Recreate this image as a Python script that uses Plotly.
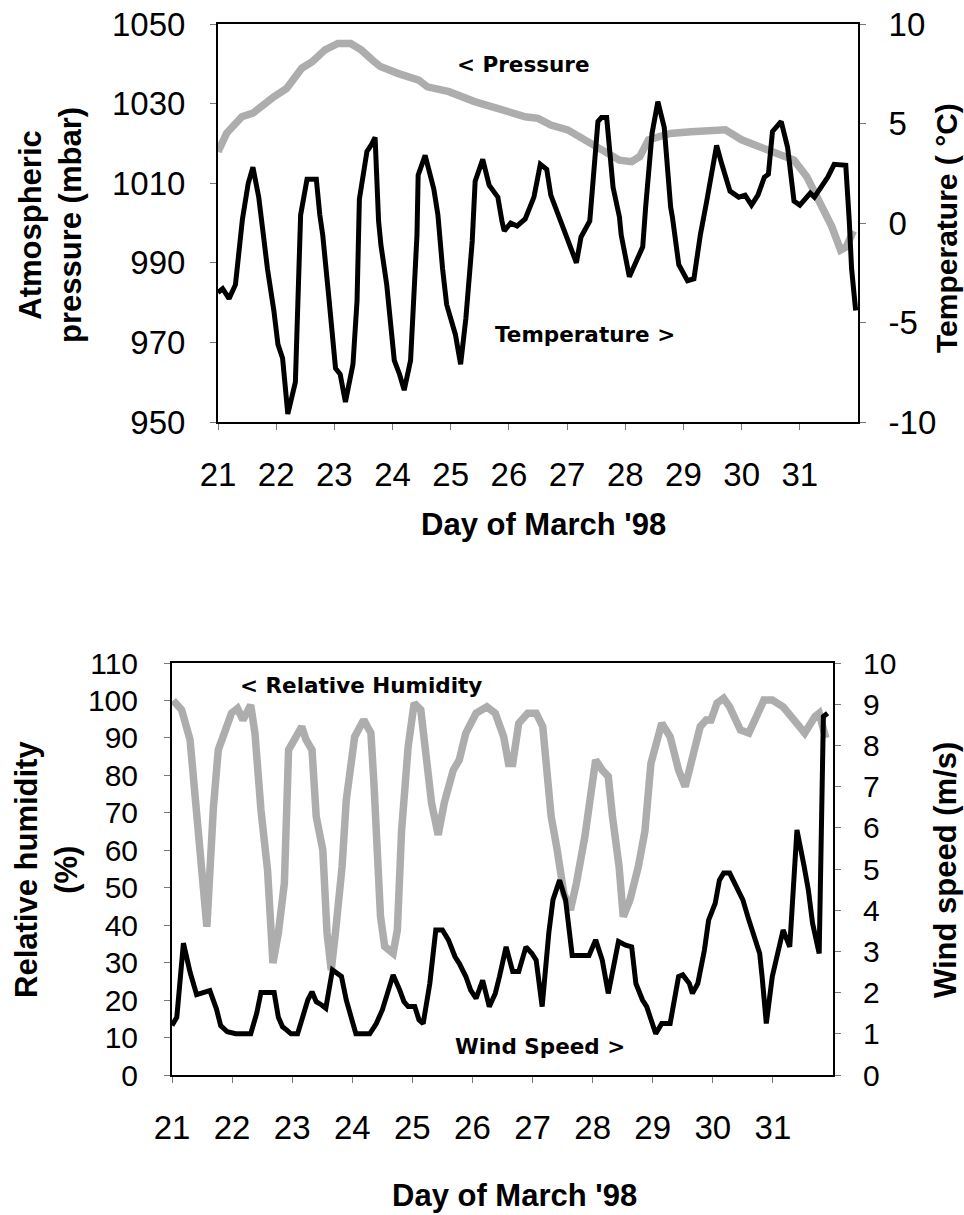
import plotly.graph_objects as go

# ---------------- data ----------------
days = list(range(21, 32))
day_labels = [str(d) for d in days]

pressure_day = [21.00, 21.15, 21.41, 21.60, 21.96, 22.18, 22.44, 22.62, 22.84, 23.06, 23.28, 23.46,
                23.65, 23.79, 24.09, 24.45, 24.60, 24.97, 25.41, 25.85, 26.28, 26.50, 26.72, 27.01,
                27.31, 27.60, 27.90, 28.11, 28.25, 28.40, 28.77, 29.13, 29.50, 29.72, 30.00, 30.31,
                30.68, 30.90, 31.12, 31.26, 31.40, 31.55, 31.70, 31.80, 31.92]
pressure_mbar = [1017.9, 1022.6, 1026.7, 1027.6, 1031.7, 1033.8, 1038.9, 1040.5, 1043.5, 1045.1, 1045.1, 1043.5,
                 1041.0, 1039.3, 1037.6, 1035.9, 1034.2, 1033.0, 1030.5, 1028.4, 1026.7, 1026.3, 1024.6, 1023.4,
                 1020.9, 1018.3, 1015.8, 1015.4, 1016.7, 1020.9, 1022.5, 1022.9, 1023.4, 1023.4, 1020.9, 1019.2,
                 1017.5, 1015.8, 1011.6, 1007.5, 1003.0, 999.1, 993.2, 994.0, 998.0]

temp_day = [21.00, 21.08, 21.19, 21.30, 21.42, 21.52, 21.60, 21.70, 21.78, 21.85, 21.96, 22.03, 22.11, 22.20,
            22.33, 22.42, 22.53, 22.69, 22.75, 22.80, 22.91, 23.02, 23.10, 23.19, 23.32, 23.39, 23.43, 23.56,
            23.64, 23.70, 23.76, 23.80, 23.90, 24.03, 24.12, 24.20, 24.31, 24.42, 24.44, 24.56, 24.71, 24.78,
            24.86, 24.93, 25.08, 25.17, 25.26, 25.37, 25.42, 25.55, 25.66, 25.81, 25.88, 25.92, 26.03, 26.14,
            26.28, 26.43, 26.54, 26.65, 26.72, 26.85, 26.98, 27.16, 27.24, 27.35, 27.39, 27.53, 27.59, 27.68,
            27.79, 27.90, 27.93, 28.07, 28.19, 28.30, 28.35, 28.46, 28.56, 28.67, 28.78, 28.81, 28.92, 29.07,
            29.18, 29.29, 29.40, 29.57, 29.66, 29.80, 29.95, 30.06, 30.17, 30.28, 30.39, 30.46, 30.53, 30.68,
            30.79, 30.90, 31.00, 31.07, 31.18, 31.25, 31.40, 31.48, 31.59, 31.70, 31.79, 31.85, 31.89, 31.96]
temp_c = [-3.5, -3.3, -3.8, -3.1, 0.2, 2.0, 2.8, 1.3, -0.6, -2.3, -4.4, -6.1, -6.8, -9.6,
          -8.0, 0.4, 2.2, 2.2, 0.4, -0.6, -3.9, -7.3, -7.6, -9.0, -7.1, -3.9, 1.2, 3.6,
          3.95, 4.3, 0.1, -1.1, -3.1, -6.9, -7.6, -8.4, -6.9, -0.6, 2.4, 3.4, 1.7, 0.4,
          -2.3, -4.1, -5.6, -7.1, -4.8, -0.9, 2.1, 3.2, 1.9, 1.3, 0.1, -0.4, 0.0, -0.15,
          0.2, 1.3, 2.95, 2.7, 1.4, 0.4, -0.5, -2.0, -0.7, -0.1, 0.1, 5.1, 5.3, 5.3,
          1.8, 0.3, -0.6, -2.7, -1.9, -1.2, 0.8, 4.5, 6.1, 4.8, 0.8, 0.3, -2.1, -2.9,
          -2.8, -0.6, 1.1, 3.9, 2.95, 1.6, 1.3, 1.4, 0.9, 1.4, 2.3, 2.45, 4.6, 5.1,
          3.8, 1.1, 0.9, 1.1, 1.5, 1.3, 2.0, 2.3, 2.95, 2.95, 2.9, 0.1, -2.3, -4.4]

rh_day = [21.02, 21.16, 21.30, 21.41, 21.52, 21.58, 21.69, 21.77, 21.99, 22.09, 22.18, 22.31, 22.38, 22.48,
          22.59, 22.62, 22.68, 22.77, 22.87, 22.94, 23.05, 23.16, 23.23, 23.33, 23.40, 23.51, 23.58, 23.65,
          23.72, 23.83, 23.90, 24.04, 24.19, 24.31, 24.36, 24.43, 24.47, 24.54, 24.68, 24.75, 24.82, 24.93,
          25.03, 25.14, 25.21, 25.32, 25.43, 25.53, 25.68, 25.78, 25.89, 26.06, 26.24, 26.38, 26.52, 26.60,
          26.67, 26.77, 26.92, 27.06, 27.17, 27.24, 27.31, 27.41, 27.52, 27.63, 27.73, 27.87, 27.98, 28.05,
          28.16, 28.26, 28.33, 28.44, 28.51, 28.62, 28.76, 28.87, 28.97, 29.15, 29.29, 29.43, 29.54, 29.65,
          29.79, 29.89, 29.97, 30.07, 30.18, 30.28, 30.46, 30.60, 30.74, 30.85, 30.99, 31.17, 31.35, 31.53,
          31.70, 31.77, 31.88]
rh_pct = [100.0, 97.5, 89.5, 71.6, 53.9, 39.6, 71.6, 86.8, 96.6, 97.9, 94.8, 98.8, 91.3, 70.8,
          54.7, 46.7, 29.9, 37.9, 51.2, 86.8, 90.3, 93.0, 89.5, 86.8, 69.0, 60.0, 37.9, 28.0,
          38.0, 55.6, 73.4, 90.3, 94.8, 91.3, 78.0, 56.6, 42.3, 34.3, 32.5, 38.7, 65.1, 87.7,
          99.3, 97.5, 86.8, 72.6, 64.1, 72.6, 81.4, 84.1, 91.3, 96.6, 98.3, 96.6, 90.3, 83.2,
          83.2, 93.9, 96.6, 96.6, 93.0, 79.7, 69.0, 60.1, 48.5, 44.1, 51.2, 63.6, 78.0, 84.1,
          81.4, 79.7, 69.0, 55.6, 42.3, 46.7, 55.6, 65.1, 83.2, 93.9, 90.3, 81.4, 77.0, 84.1,
          93.0, 94.8, 94.8, 99.3, 100.6, 98.3, 92.1, 91.3, 95.7, 100.1, 100.1, 98.3, 94.8, 91.3,
          95.7, 96.6, 90.0]

wind_day = [21.00, 21.08, 21.19, 21.30, 21.41, 21.52, 21.63, 21.74, 21.81, 21.92, 22.06, 22.31, 22.41, 22.48,
            22.70, 22.77, 22.84, 22.91, 22.98, 23.09, 23.19, 23.26, 23.33, 23.40, 23.49, 23.56, 23.67, 23.82,
            23.90, 23.97, 24.06, 24.29, 24.40, 24.50, 24.60, 24.68, 24.79, 24.86, 24.93, 25.04, 25.11, 25.18,
            25.29, 25.39, 25.50, 25.60, 25.71, 25.78, 25.89, 25.97, 26.06, 26.17, 26.28, 26.38, 26.45, 26.56,
            26.67, 26.77, 26.89, 26.99, 27.06, 27.16, 27.27, 27.34, 27.45, 27.55, 27.66, 27.94, 28.05, 28.16,
            28.26, 28.33, 28.43, 28.55, 28.65, 28.72, 28.83, 28.90, 29.05, 29.15, 29.29, 29.43, 29.50, 29.61,
            29.66, 29.75, 29.86, 29.93, 30.04, 30.11, 30.18, 30.28, 30.39, 30.50, 30.60, 30.67, 30.78, 30.82,
            30.89, 30.99, 31.07, 31.17, 31.28, 31.40, 31.52, 31.59, 31.66, 31.77, 31.84, 31.91]
wind_ms = [1.2, 1.4, 3.2, 2.5, 1.95, 2.0, 2.05, 1.6, 1.2, 1.05, 1.0, 1.0, 1.5, 2.0,
           2.0, 1.4, 1.17, 1.09, 1.0, 1.0, 1.5, 1.82, 2.02, 1.78, 1.7, 1.62, 2.55, 2.39,
           1.82, 1.5, 1.0, 1.0, 1.25, 1.58, 2.06, 2.43, 2.06, 1.78, 1.66, 1.66, 1.34, 1.25,
           2.22, 3.52, 3.52, 3.28, 2.87, 2.71, 2.39, 2.06, 1.86, 2.3, 1.66, 1.98, 2.39, 3.11,
           2.51, 2.51, 3.11, 2.95, 2.79, 1.66, 3.44, 4.25, 4.73, 4.25, 2.9, 2.9, 3.28, 2.79,
           1.98, 2.55, 3.24, 3.15, 3.11, 2.22, 1.82, 1.66, 1.0, 1.25, 1.25, 2.39, 2.43, 2.22,
           1.98, 2.22, 3.03, 3.76, 4.17, 4.73, 4.9, 4.9, 4.57, 4.25, 3.76, 3.44, 2.95, 2.39,
           1.25, 2.39, 2.87, 3.52, 3.11, 5.95, 5.06, 4.49, 3.68, 2.95, 8.7, 8.78]

pressure_ticks = [950, 970, 990, 1010, 1030, 1050]
temp_ticks = [-10, -5, 0, 5, 10]
temp_labels = ["-10", "-5", "0", "5", "10"]
rh_ticks = list(range(0, 111, 10))
wind_ticks = list(range(0, 11))

# ---------------- figure ----------------
W, H = 964, 1215
def px(x): return x / W
def py(y): return 1 - y / H

GREY = "#adadad"
ARIAL = "Liberation Sans, Arial, sans-serif"
TICK_TOP = dict(family=ARIAL, size=33, color="black")
TICK_BOT_Y = dict(family=ARIAL, size=30, color="black")
TITLEFONT = dict(family=ARIAL, size=31, color="black")
NOTEFONT = dict(family="DejaVu Sans, sans-serif", size=21.5, color="black")

fig = go.Figure()
fig.add_trace(go.Scatter(x=pressure_day, y=pressure_mbar, mode="lines", xaxis="x", yaxis="y",
                         line=dict(color=GREY, width=7.5), showlegend=False))
fig.add_trace(go.Scatter(x=temp_day, y=temp_c, mode="lines", xaxis="x", yaxis="y2",
                         line=dict(color="black", width=5), showlegend=False))
fig.add_trace(go.Scatter(x=rh_day, y=rh_pct, mode="lines", xaxis="x2", yaxis="y3",
                         line=dict(color=GREY, width=7.5), showlegend=False))
fig.add_trace(go.Scatter(x=wind_day, y=wind_ms, mode="lines", xaxis="x2", yaxis="y4",
                         line=dict(color="black", width=5), showlegend=False))

axis_common = dict(showgrid=False, zeroline=False, showline=True, linecolor="black", linewidth=2,
                   ticks="outside", ticklen=6, tickcolor="#777777", tickwidth=1, automargin=False)

top_x = [px(218), px(858)]
top_y = [py(422), py(24)]
bot_x = [px(172), px(833)]
bot_y = [py(1075), py(663)]

fig.update_layout(
    width=W, height=H, margin=dict(l=0, r=0, t=0, b=0, autoexpand=False),
    paper_bgcolor="white", plot_bgcolor="white",
    xaxis=dict(domain=top_x, anchor="y", range=[21, 32], tickvals=days, ticktext=day_labels,
               mirror=True, ticklabelstandoff=16, tickfont=TICK_TOP, **axis_common),
    yaxis=dict(domain=top_y, anchor="x", range=[950, 1050], tickvals=pressure_ticks,
               ticklabelstandoff=18, tickfont=TICK_TOP, **axis_common),
    yaxis2=dict(overlaying="y", anchor="x", side="right", range=[-10, 10], tickvals=temp_ticks,
                ticktext=temp_labels, ticklabelstandoff=16, tickfont=TICK_TOP, **axis_common),
    xaxis2=dict(domain=bot_x, anchor="y3", range=[21, 32], tickvals=days, ticktext=day_labels,
                mirror=True, ticklabelstandoff=16, tickfont=TICK_TOP, **axis_common),
    yaxis3=dict(domain=bot_y, anchor="x2", range=[0, 110], tickvals=rh_ticks,
                ticklabelstandoff=20, tickfont=TICK_BOT_Y, **axis_common),
    yaxis4=dict(overlaying="y3", anchor="x2", side="right", range=[0, 10], tickvals=wind_ticks,
                ticklabelstandoff=16, tickfont=TICK_BOT_Y, **axis_common),
)

ann = []
def note(text, x, y, font, angle=0, xanchor="center"):
    ann.append(dict(text=text, x=px(x), y=py(y), xref="paper", yref="paper", showarrow=False,
                    font=font, textangle=angle, xanchor=xanchor, yanchor="middle", align="center"))

note("<b>Day of March '98</b>", 543, 525, TITLEFONT)
note("<b>Day of March '98</b>", 514, 1195, TITLEFONT)
note("<b>Atmospheric<br>pressure (mbar)</b>", 51, 225, TITLEFONT, -90)
note("<b>Temperature ( °C)</b>", 946, 228, dict(TITLEFONT, size=30), -90)
note("<b>Relative humidity<br>(%)</b>", 46, 870, TITLEFONT, -90)
note("<b>Wind speed (m/s)</b>", 945, 870, TITLEFONT, -90)
note("<b>&lt; Pressure</b>", 455, 65, NOTEFONT, xanchor="left")
note("<b>Temperature &gt;</b>", 493, 335, NOTEFONT, xanchor="left")
note("<b>&lt; Relative Humidity</b>", 238, 685, NOTEFONT, xanchor="left")
note("<b>Wind Speed &gt;</b>", 453, 1046, NOTEFONT, xanchor="left")
fig.update_layout(annotations=ann)

fig.write_html("out.html", config={"displayModeBar": False},
               post_script="document.body.style.margin='0px';document.body.style.overflow='hidden';")
